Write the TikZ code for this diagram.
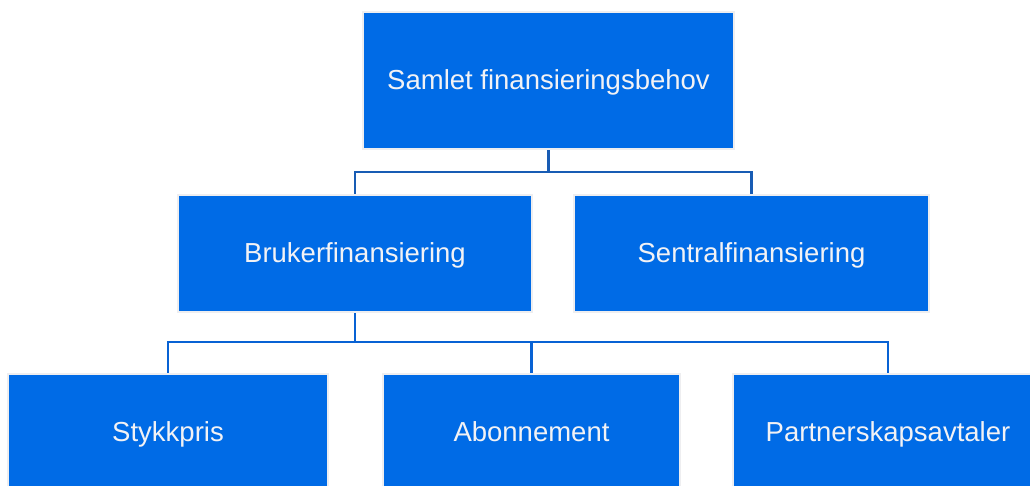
\documentclass[tikz,border=0pt]{standalone}
\usepackage{fontspec}
\setmainfont{Liberation Sans}
\definecolor{boxblue}{RGB}{0,107,230}
\definecolor{boxedge}{RGB}{238,238,240}
\definecolor{textwhite}{RGB}{242,242,245}
\definecolor{linkdark}{RGB}{24,92,180}
\definecolor{linkblue}{RGB}{8,98,212}
\tikzset{
  orgbox/.style={rectangle, fill=boxblue, draw=boxedge, line width=2.5pt,
    text=textwhite, font=\fontsize{27.5}{33}\selectfont, inner sep=0pt,
    text height=20pt, text depth=2.5pt, anchor=center},
  linktop/.style={draw=linkdark, line width=2.6pt},
  linklow/.style={draw=linkblue, line width=2.6pt}
}
\begin{document}
\begin{tikzpicture}[x=1pt,y=-1pt]
\useasboundingbox (0,0) rectangle (1030,486);
\clip (0,0) rectangle (1030,486);
\fill[white] (0,0) rectangle (1030,486);
% nodes
\node[orgbox, minimum width=371pt, minimum height=137pt] (top) at (548.5,80.5) {Samlet finansieringsbehov};
\node[orgbox, minimum width=354pt, minimum height=117pt] (bruker) at (355,253.5) {Brukerfinansiering};
\node[orgbox, minimum width=355pt, minimum height=117pt] (sentral) at (751.5,253.5) {Sentralfinansiering};
\node[orgbox, minimum width=320pt, minimum height=118pt] (stykk) at (168,433) {Stykkpris};
\node[orgbox, minimum width=297pt, minimum height=118pt] (abo) at (531.5,433) {Abonnement};
\node[orgbox, minimum width=310pt, minimum height=118pt] (partner) at (888,433) {Partnerskapsavtaler};
% connectors
\coordinate (j1) at (548.5,172);
\coordinate (j2) at (355,342);
\draw[linktop] (top.south) -- (j1);
\draw[linktop] (j1) -| (bruker.north);
\draw[linktop] (j1) -| (sentral.north);
\draw[linklow] (bruker.south) -- (j2);
\draw[linklow] (j2) -| (stykk.north);
\draw[linklow] (j2) -| (partner.north);
\draw[linklow] (abo.north) -- (abo.north |- j2);
\end{tikzpicture}
\end{document}
